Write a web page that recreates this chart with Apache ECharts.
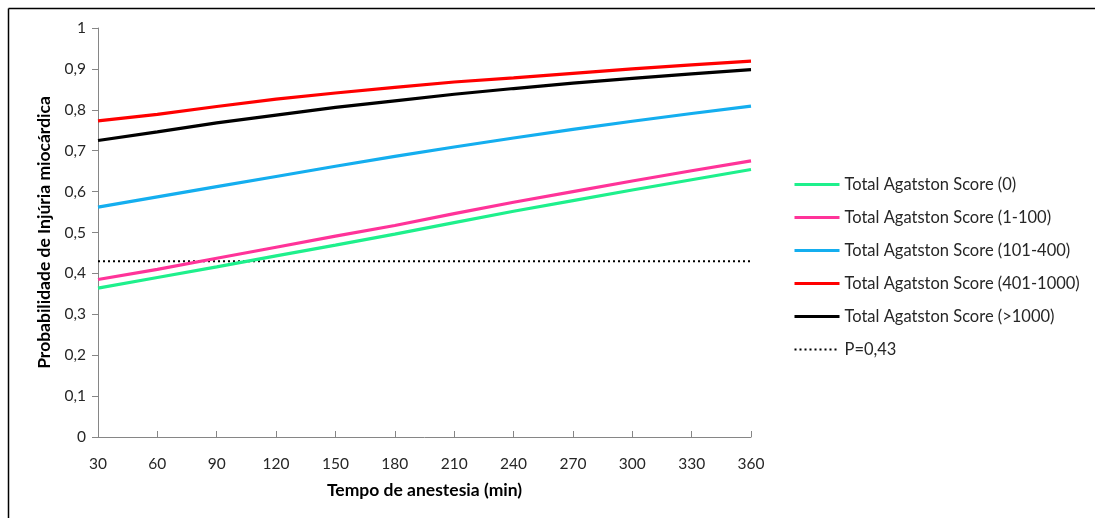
<!DOCTYPE html>
<html>
<head>
<meta charset="utf-8">
<script src="https://cdn.jsdelivr.net/npm/echarts@6/dist/echarts.min.js"></script>
<style>
html,body{margin:0;padding:0;background:#fff;}
#chart{width:1095px;height:518px;}
</style>
</head>
<body>
<div id="chart"></div>
<script>
const minutes = [30, 60, 90, 120, 150, 180, 210, 240, 270, 300, 330, 360];
const score0 = [0.364, 0.390, 0.416, 0.443, 0.469, 0.496, 0.524, 0.552, 0.578, 0.604, 0.629, 0.654];
const score1_100 = [0.385, 0.410, 0.437, 0.464, 0.491, 0.517, 0.546, 0.574, 0.600, 0.626, 0.651, 0.675];
const score101_400 = [0.562, 0.587, 0.612, 0.637, 0.662, 0.686, 0.709, 0.731, 0.752, 0.772, 0.791, 0.809];
const score401_1000 = [0.773, 0.789, 0.808, 0.826, 0.841, 0.855, 0.868, 0.878, 0.889, 0.900, 0.910, 0.919];
const score1000plus = [0.725, 0.746, 0.768, 0.787, 0.806, 0.822, 0.838, 0.852, 0.865, 0.877, 0.888, 0.898];
const threshold = [0.43, 0.43, 0.43, 0.43, 0.43, 0.43, 0.43, 0.43, 0.43, 0.43, 0.43, 0.43];
const seriesNames = ['Total Agatston Score (0)', 'Total Agatston Score (1-100)', 'Total Agatston Score (101-400)', 'Total Agatston Score (401-1000)', 'Total Agatston Score (>1000)', 'P=0,43'];
const colors = ['#1EF08C', '#FF3399', '#14AEEF', '#FF0000', '#000000', '#000000'];
const allData = [score0, score1_100, score101_400, score401_1000, score1000plus, threshold];

const font = 'Lato, "Open Sans", sans-serif';
const chart = echarts.init(document.getElementById('chart'), null, {renderer: 'canvas'});

const series = allData.map((arr, i) => ({
  name: seriesNames[i],
  type: 'line',
  symbol: 'none',
  smooth: false,
  silent: true,
  data: arr.map((v, j) => [minutes[j], v]),
  lineStyle: {color: colors[i], width: i === 5 ? 2 : 3.2, type: i === 5 ? [2, 3] : 'solid'},
  itemStyle: {color: colors[i]},
  z: i === 5 ? 1 : 2 + i
}));

chart.setOption({
  animation: false,
  backgroundColor: '#fff',
  textStyle: {fontFamily: font},
  grid: {left: 98, right: 344, top: 28, bottom: 81, containLabel: false},
  legend: {
    orient: 'vertical',
    left: 793,
    top: 176,
    padding: 0,
    itemWidth: 45,
    itemHeight: 14,
    itemGap: 16,
    itemStyle: {opacity: 0},
    textStyle: {fontFamily: font, fontSize: 16.5, color: '#262626'},
    data: seriesNames.map((n, i) => ({name: n, lineStyle: {width: i === 5 ? 2 : 3}}))
  },
  xAxis: {
    type: 'value',
    min: 30,
    max: 360,
    interval: 30,
    name: 'Tempo de anestesia (min)',
    nameLocation: 'middle',
    nameGap: 44,
    nameTextStyle: {fontFamily: font, fontSize: 17.5, fontWeight: 'bold', color: '#000'},
    axisLine: {show: true, lineStyle: {color: '#868686', width: 1}},
    axisTick: {show: true, inside: true, length: 6, lineStyle: {color: '#868686'}},
    axisLabel: {fontFamily: font, fontSize: 15.5, color: '#262626', margin: 19},
    splitLine: {show: false}
  },
  yAxis: {
    type: 'value',
    min: 0,
    max: 1,
    interval: 0.1,
    name: 'Probabilidade de Injúria miocárdica',
    nameLocation: 'middle',
    nameGap: 44,
    nameTextStyle: {fontFamily: font, fontSize: 17.5, fontWeight: 'bold', color: '#000'},
    axisLine: {show: true, lineStyle: {color: '#868686', width: 1}},
    axisTick: {show: true, inside: false, length: 6, lineStyle: {color: '#868686'}},
    axisLabel: {fontFamily: font, fontSize: 15.5, color: '#262626', margin: 12,
      formatter: v => String(Math.round(v * 10) / 10).replace('.', ',')},
    splitLine: {show: false}
  },
  graphic: [
    {type: 'line', shape: {x1: 8.5, y1: 8.5, x2: 1095, y2: 8.5}, style: {stroke: '#000', lineWidth: 1.5}, silent: true},
    {type: 'line', shape: {x1: 8.5, y1: 8.5, x2: 8.5, y2: 518}, style: {stroke: '#000', lineWidth: 1.5}, silent: true}
  ],
  series: series
});
</script>
</body>
</html>
